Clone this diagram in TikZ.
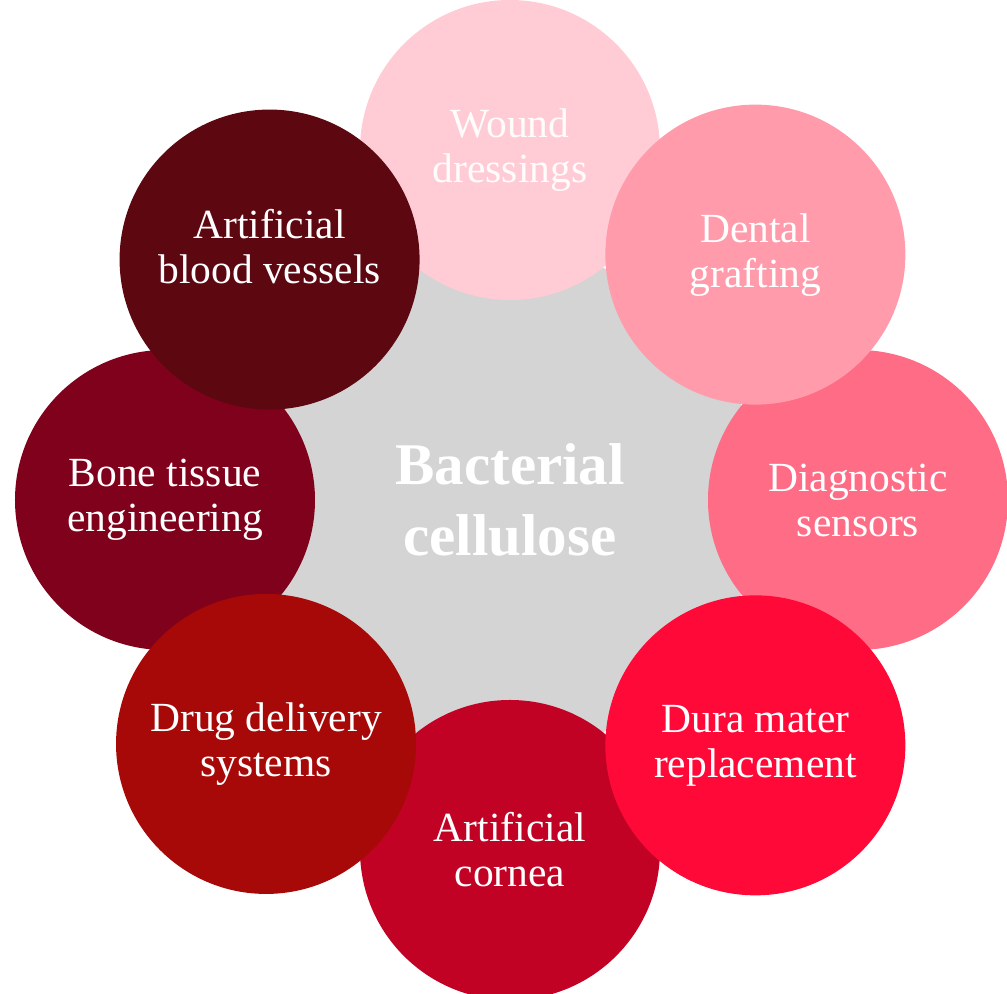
\documentclass[tikz,border=0pt]{standalone}
\usepackage{fontspec}
\setmainfont{Liberation Serif}
\usepackage{xcolor}
\usepackage{tikz}
\usetikzlibrary{positioning}
\definecolor{coreGrey}{HTML}{D4D4D4}
\definecolor{woundPink}{HTML}{FFCCD6}
\definecolor{dentalPink}{HTML}{FF9BAB}
\definecolor{sensorPink}{HTML}{FF6C86}
\definecolor{duraRed}{HTML}{FF0938}
\definecolor{corneaRed}{HTML}{C10225}
\definecolor{drugRed}{HTML}{A60907}
\definecolor{boneRed}{HTML}{80011B}
\definecolor{vesselRed}{HTML}{5D0711}
\tikzset{
    appCircle/.style={
        circle,
        minimum size=3cm,
        inner sep=0pt,
        align=center,
        text=white,
        font=\fontsize{11.8}{12.8}\selectfont
    },
    coreCircle/.style={
        circle,
        minimum size=5cm,
        fill=coreGrey,
        align=center,
        text=white,
        font=\fontsize{16.8}{20}\selectfont\bfseries
    }
}
\begin{document}
\begin{tikzpicture}
        \useasboundingbox (-5.10,-4.94) rectangle (4.97,5.00);

        \node[coreCircle] (core) at (0,0) {Bacterial\\cellulose};

        % lower layer
        \node[appCircle,fill=woundPink,text=white!94!woundPink] (wound) at (90:3.50) {Wound\\dressings};
        \node[appCircle,fill=sensorPink] (sensor) at (0:3.48) {Diagnostic\\sensors};
        \node[appCircle,fill=corneaRed] (cornea) at (270:3.50) {Artificial\\cornea};
        \node[appCircle,fill=boneRed] (bone) at (180:3.45) {Bone tissue\\engineering};

        % upper layer
        \node[appCircle,fill=dentalPink] (dental) at (45:3.47) {Dental\\grafting};
        \node[appCircle,fill=duraRed] (dura) at (-45:3.47) {Dura mater\\replacement};
        \node[appCircle,fill=drugRed] (drug) at (-135:3.45) {Drug delivery\\systems};
        \node[appCircle,fill=vesselRed,text depth=0.26cm] (vessel) at (135:3.40) {Artificial\\blood vessels};
    \end{tikzpicture}
\end{document}
